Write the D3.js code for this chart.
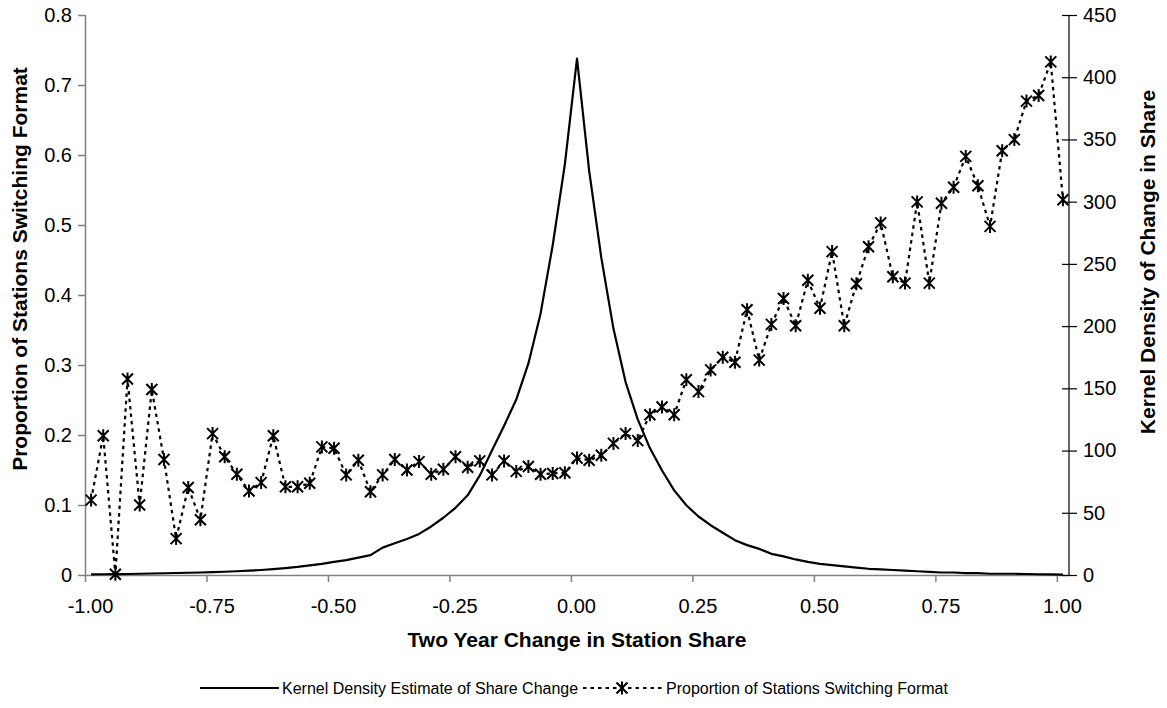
<!DOCTYPE html>
<html>
<head>
<meta charset="utf-8">
<script src="https://cdn.jsdelivr.net/npm/d3@7"></script>
<style>
  body { margin: 0; background: #fff; }
  text { font-family: "Liberation Sans", Arial, sans-serif; fill: #000; }
</style>
</head>
<body>
<svg id="chart" width="1167" height="708"></svg>
<script>
// Two-year change in station share (bin centres)
const shareChange = [
  -0.9875, -0.9625, -0.9375, -0.9125, -0.8875, -0.8625, -0.8375, -0.8125, -0.7875, -0.7625,
  -0.7375, -0.7125, -0.6875, -0.6625, -0.6375, -0.6125, -0.5875, -0.5625, -0.5375, -0.5125,
  -0.4875, -0.4625, -0.4375, -0.4125, -0.3875, -0.3625, -0.3375, -0.3125, -0.2875, -0.2625,
  -0.2375, -0.2125, -0.1875, -0.1625, -0.1375, -0.1125, -0.0875, -0.0625, -0.0375, -0.0125,
   0.0125,  0.0375,  0.0625,  0.0875,  0.1125,  0.1375,  0.1625,  0.1875,  0.2125,  0.2375,
   0.2625,  0.2875,  0.3125,  0.3375,  0.3625,  0.3875,  0.4125,  0.4375,  0.4625,  0.4875,
   0.5125,  0.5375,  0.5625,  0.5875,  0.6125,  0.6375,  0.6625,  0.6875,  0.7125,  0.7375,
   0.7625,  0.7875,  0.8125,  0.8375,  0.8625,  0.8875,  0.9125,  0.9375,  0.9625,  0.9875,
   1.0125
];

// Kernel density estimate of share change (right axis)
const kernelDensity = [
  0.5, 0.6, 0.7, 0.8, 1.0, 1.2, 1.4, 1.6, 1.8, 2.0,
  2.3, 2.6, 3.0, 3.5, 4.0, 4.7, 5.5, 6.5, 7.8, 9.0,
  10.5, 12, 14, 16, 22, 25.5, 29, 33, 39, 46,
  54, 64, 80, 100, 120, 141, 170, 210, 265, 330,
  415, 325, 255, 198, 155, 125, 102, 84, 68, 56,
  47, 40, 34, 28, 24, 21, 17, 15, 12.5, 10.5,
  9, 8, 7, 6, 5, 4.5, 4, 3.5, 3, 2.5,
  2, 2, 1.5, 1.5, 1, 1, 1, 0.8, 0.6, 0.5,
  0.3
];

// Proportion of stations switching format (left axis)
const switchProp = [
  0.107, 0.199, 0.001, 0.280, 0.100, 0.265, 0.165, 0.052, 0.125, 0.079,
  0.202, 0.169, 0.144, 0.120, 0.132, 0.199, 0.126, 0.126, 0.131, 0.183,
  0.181, 0.143, 0.164, 0.119, 0.143, 0.165, 0.150, 0.162, 0.144, 0.151,
  0.169, 0.154, 0.163, 0.143, 0.163, 0.148, 0.155, 0.144, 0.145, 0.146,
  0.167, 0.164, 0.171, 0.188, 0.202, 0.192, 0.229, 0.240, 0.229, 0.279,
  0.262, 0.293, 0.311, 0.304, 0.379, 0.307, 0.358, 0.395, 0.356, 0.421,
  0.381, 0.462, 0.356, 0.416, 0.469, 0.503, 0.426, 0.417, 0.533, 0.417,
  0.531, 0.554, 0.598, 0.556, 0.498, 0.606, 0.622, 0.677, 0.685, 0.733,
  0.536
];

const xTicks = [-1, -0.75, -0.5, -0.25, 0, 0.25, 0.5, 0.75, 1];
const leftTicks = [0, 0.1, 0.2, 0.3, 0.4, 0.5, 0.6, 0.7, 0.8];
const rightTicks = [0, 50, 100, 150, 200, 250, 300, 350, 400, 450];

const labels = {
  x: "Two Year Change in Station Share",
  left: "Proportion of Stations Switching Format",
  right: "Kernel Density of Change in Share",
  kernel: "Kernel Density Estimate of Share Change",
  prop: "Proportion of Stations Switching Format"
};

const plot = { left: 85, right: 1069, top: 15, bottom: 575 };
const svg = d3.select("#chart");

const x = d3.scaleLinear().domain([-1, 1.025]).range([plot.left, plot.right]);
const yL = d3.scaleLinear().domain([0, 0.8]).range([plot.bottom, plot.top]);
const yR = d3.scaleLinear().domain([0, 450]).range([plot.bottom, plot.top]);

const tickFont = 20;
const titleFont = 21;

// Bottom axis
const gx = svg.append("g")
  .attr("transform", `translate(0,${plot.bottom})`)
  .call(d3.axisBottom(x).tickValues(xTicks).tickSize(7).tickPadding(17)
    .tickFormat(v => v.toFixed(2)));
gx.select(".domain").attr("stroke", "#808080").attr("stroke-width", 1.5)
  .attr("d", `M${plot.left},0.5H${plot.right}`);
gx.selectAll(".tick line").attr("stroke", "#808080").attr("stroke-width", 1.5);
gx.selectAll(".tick text").attr("font-size", tickFont).attr("dx", 5)
  .attr("font-family", "Liberation Sans, Arial, sans-serif");

// Left axis
const gl = svg.append("g")
  .attr("transform", `translate(${plot.left},0)`)
  .call(d3.axisLeft(yL).tickValues(leftTicks).tickSize(7).tickPadding(6)
    .tickFormat(v => v === 0 ? "0" : v.toFixed(1)));
gl.select(".domain").attr("stroke", "#808080").attr("stroke-width", 1.5)
  .attr("d", `M0.5,${plot.top}V${plot.bottom}`);
gl.selectAll(".tick line").attr("stroke", "#808080").attr("stroke-width", 1.5);
gl.selectAll(".tick text").attr("font-size", tickFont)
  .attr("font-family", "Liberation Sans, Arial, sans-serif");

// Right axis (ticks cross the axis line)
const gr = svg.append("g")
  .attr("transform", `translate(${plot.right},0)`)
  .call(d3.axisRight(yR).tickValues(rightTicks).tickSize(8).tickPadding(6));
gr.select(".domain").attr("stroke", "#000").attr("stroke-width", 1.2)
  .attr("d", `M0,${plot.top}V${plot.bottom}`);
gr.selectAll(".tick line").attr("x1", -7).attr("x2", 8).attr("stroke", "#000").attr("stroke-width", 1.2);
gr.selectAll(".tick text").attr("font-size", tickFont)
  .attr("font-family", "Liberation Sans, Arial, sans-serif");

// Kernel density line
const kernelLine = d3.line()
  .x((d, i) => x(shareChange[i]))
  .y(d => yR(d));
svg.append("path")
  .datum(kernelDensity)
  .attr("fill", "none")
  .attr("stroke", "#000")
  .attr("stroke-width", 2.2)
  .attr("stroke-linejoin", "round")
  .attr("d", kernelLine);

// Switching proportion: dotted line with star markers
const propLine = d3.line()
  .x((d, i) => x(shareChange[i]))
  .y(d => yL(d));
svg.append("path")
  .datum(switchProp)
  .attr("fill", "none")
  .attr("stroke", "#000")
  .attr("stroke-width", 2.2)
  .attr("stroke-dasharray", "3.5,4")
  .attr("d", propLine);

function starPath(s) {
  return `M${-s},${-s}L${s},${s}M${-s},${s}L${s},${-s}M0,${-s - 1}L0,${s + 1}`;
}

svg.append("g").selectAll("path")
  .data(switchProp)
  .join("path")
  .attr("transform", (d, i) => `translate(${x(shareChange[i])},${yL(d)})`)
  .attr("d", starPath(5.5))
  .attr("fill", "none")
  .attr("stroke", "#000")
  .attr("stroke-width", 2);

// Axis titles
svg.append("text")
  .attr("x", (plot.left + plot.right) / 2)
  .attr("y", 647)
  .attr("text-anchor", "middle")
  .attr("font-size", titleFont)
  .attr("font-weight", "bold")
  .text(labels.x);

svg.append("text")
  .attr("transform", `translate(27,269) rotate(-90)`)
  .attr("text-anchor", "middle")
  .attr("font-size", titleFont)
  .attr("font-weight", "bold")
  .text(labels.left);

svg.append("text")
  .attr("transform", `translate(1155,262) rotate(-90)`)
  .attr("text-anchor", "middle")
  .attr("font-size", titleFont)
  .attr("font-weight", "bold")
  .text(labels.right);

// Legend
const legendFont = 16;
const legend = svg.append("g").attr("transform", "translate(0,688)");
legend.append("line")
  .attr("x1", 200).attr("x2", 279).attr("y1", 0).attr("y2", 0)
  .attr("stroke", "#000").attr("stroke-width", 2);
legend.append("text")
  .attr("x", 282).attr("y", 6)
  .attr("font-size", legendFont)
  .text(labels.kernel);
legend.append("line")
  .attr("x1", 583).attr("x2", 662).attr("y1", 0).attr("y2", 0)
  .attr("stroke", "#000").attr("stroke-width", 2)
  .attr("stroke-dasharray", "3.5,4");
legend.append("path")
  .attr("transform", "translate(622,0)")
  .attr("d", starPath(5.5))
  .attr("fill", "none").attr("stroke", "#000").attr("stroke-width", 2);
legend.append("text")
  .attr("x", 666).attr("y", 6)
  .attr("font-size", legendFont)
  .text(labels.prop);
</script>
</body>
</html>
